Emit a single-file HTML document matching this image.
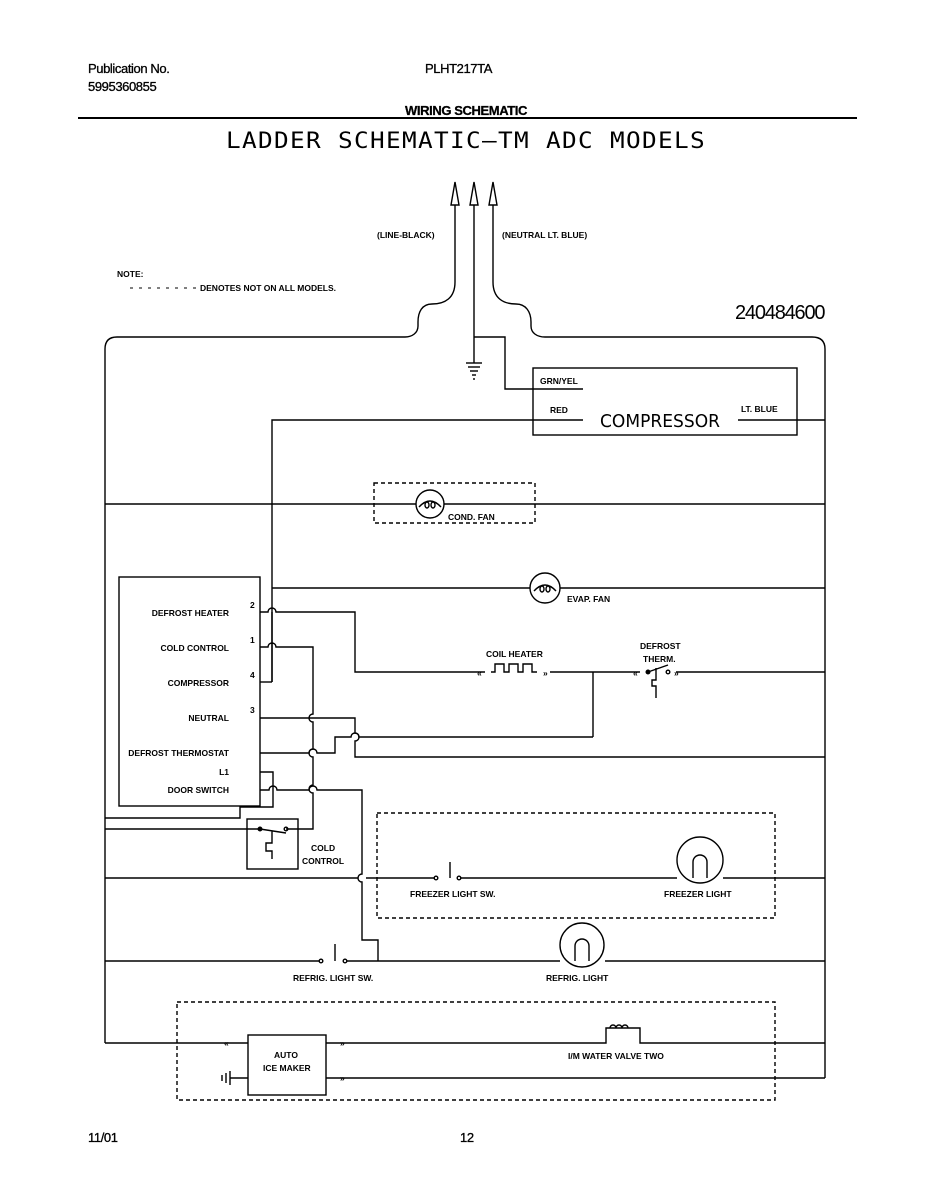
<!DOCTYPE html>
<html><head><meta charset="utf-8"><style>
html,body{margin:0;padding:0;background:#fff}
svg{display:block}
.h{font-family:"Liberation Sans",Arial,sans-serif;font-size:13px;fill:#000;letter-spacing:-0.4px;stroke:#000;stroke-width:0.3}
.s{font-family:"Liberation Sans",Arial,sans-serif;font-size:8.5px;fill:#000;font-weight:bold}
</style></head><body>
<svg width="937" height="1200" viewBox="0 0 937 1200" xmlns="http://www.w3.org/2000/svg">
<g stroke="#000" stroke-width="1.4" fill="none">
<line x1="78" y1="118" x2="857" y2="118" stroke-width="2"/>
<path d="M455,200 V282 C455,298 445,304 432,304 C422,304 418,312 418,322 V326 C418,333 412,337 405,337 H117 Q105,337 105,349 V1043"/>
<path d="M493,200 V282 C493,298 503,304 516,304 C526,304 531,312 531,322 V326 C531,333 537,337 545,337 H812 Q825,337 825,349 V1078"/>
<line x1="474" y1="200" x2="474" y2="363"/>
<path d="M474,337 H505 V389 H583"/>
<path d="M451,205 L455,182 L459,205 Z" fill="#fff"/>
<path d="M470,205 L474,182 L478,205 Z" fill="#fff"/>
<path d="M489,205 L493,182 L497,205 Z" fill="#fff"/>
<line x1="466" y1="363" x2="482" y2="363"/><line x1="468" y1="367" x2="480" y2="367"/><line x1="470" y1="371" x2="478" y2="371"/><line x1="472" y1="375" x2="476" y2="375"/><line x1="473" y1="379" x2="475" y2="379"/>
<rect x="533" y="368" width="264" height="67"/>
<path d="M272,682 V420 H583"/>
<line x1="738" y1="420" x2="825" y2="420"/>
<line x1="105" y1="504" x2="416" y2="504"/><line x1="444" y1="504" x2="825" y2="504"/>
<circle cx="430" cy="504" r="14"/>
<path d="M419,507 q11,-12 22,0"/>
<ellipse cx="427" cy="505" rx="2" ry="3"/><ellipse cx="433" cy="505" rx="2" ry="3"/>
<rect x="374" y="483" width="161" height="40" stroke-dasharray="4,3"/>
<line x1="272" y1="588" x2="530" y2="588"/><line x1="560" y1="588" x2="825" y2="588"/>
<circle cx="545" cy="588" r="15"/>
<path d="M534,591 q11,-12 22,0"/>
<ellipse cx="542" cy="589" rx="2" ry="3"/><ellipse cx="548" cy="589" rx="2" ry="3"/>
<rect x="119" y="577" width="141" height="229"/>
<path d="M260,612 H268 a4,4 0 0 1 8,0 H355 V672 H485"/>
<path d="M491,672 h4 v-8 h9 v8 h5 v-8 h9 v8 h5 v-8 h9 v8 h5"/>
<path d="M550,672 H640 M676,672 H825"/>
<path d="M593,672 V737"/>
<circle cx="648" cy="672" r="1.8" fill="#000"/><circle cx="668" cy="672" r="1.8"/>
<path d="M648,672 L668,665 M656,668 V680 h-4 v6 h4 v12"/>
<path d="M260,647 H268 a4,4 0 0 1 8,0 H313 V714 a4,4 0 0 0 0,8 V749 a4,4 0 0 0 0,8 V785 a4,4 0 0 0 0,8 V829 H286"/>
<line x1="272" y1="612" x2="272" y2="682"/>
<line x1="260" y1="682" x2="272" y2="682"/>
<path d="M260,718 H355 V733 a4,4 0 0 1 0,8 V757 H825"/>
<path d="M260,753 H309 a4,4 0 0 1 8,0 H335 V737 H351 a4,4 0 0 1 8,0 H593"/>
<path d="M260,772 H273 V807 H240 V818 H105"/>
<path d="M260,790 H269 a4,4 0 0 1 8,0 H309 a4,4 0 0 1 8,0 H362 V874 a4,4 0 0 0 0,8 V940 H378 V961"/>
<rect x="247" y="819" width="51" height="50"/>
<line x1="105" y1="829" x2="260" y2="829"/>
<circle cx="260" cy="829" r="1.8" fill="#000"/><circle cx="286" cy="829" r="1.8"/>
<path d="M260,829 L286,833 M272,831 V843 h-6 v8 h6 v8"/>
<path d="M105,878 H358 M366,878 H435 M460,878 H677 M723,878 H825"/>
<circle cx="436" cy="878" r="1.8"/><circle cx="459" cy="878" r="1.8"/>
<line x1="450" y1="878" x2="450" y2="862"/>
<circle cx="700" cy="860" r="23"/>
<path d="M693,878 V862 a7,7 0 0 1 14,0 V878"/>
<rect x="377" y="813" width="398" height="105" stroke-dasharray="4,3"/>
<path d="M105,961 H319 M347,961 H560 M605,961 H825"/>
<circle cx="321" cy="961" r="1.8"/><circle cx="345" cy="961" r="1.8"/>
<line x1="335" y1="961" x2="335" y2="944"/>
<circle cx="582" cy="945" r="22"/>
<path d="M575,961 V946 a7,7 0 0 1 14,0 V961"/>
<rect x="177" y="1002" width="598" height="98" stroke-dasharray="4,3"/>
<path d="M105,1043 H248 M326,1043 H606 V1028 H640 V1043 H825"/>
<path d="M610,1028 a3,3 0 0 1 6,0 a3,3 0 0 1 6,0 a3,3 0 0 1 6,0"/>
<rect x="248" y="1035" width="78" height="60"/>
<path d="M326,1078 H825"/>
<path d="M230,1078 H248 M230,1071 V1085 M226,1073 V1083 M222,1075 V1081"/>
<line x1="130" y1="288" x2="197" y2="288" stroke-dasharray="3,6" stroke-width="1"/>
</g>
<g font-family="Liberation Sans, Arial, sans-serif" fill="#000">
<text x="88" y="73" class="h">Publication No.</text>
<text x="88" y="91" class="h">5995360855</text>
<text x="425" y="73" class="h">PLHT217TA</text>
<text x="466" y="115" class="h" font-weight="bold" text-anchor="middle" font-size="12">WIRING SCHEMATIC</text>
<text x="466" y="148" font-family="DejaVu Sans Mono, Liberation Mono, monospace" font-size="22" text-anchor="middle" letter-spacing="1.2" textLength="480" lengthAdjust="spacingAndGlyphs">LADDER SCHEMATIC—TM ADC MODELS</text>
<text x="735" y="319" font-size="20" letter-spacing="-1.2">240484600</text>
<text x="377" y="238" class="s">(LINE-BLACK)</text>
<text x="502" y="238" class="s">(NEUTRAL LT. BLUE)</text>
<text x="117" y="277" class="s">NOTE:</text>
<text x="200" y="291" class="s">DENOTES NOT ON ALL MODELS.</text>
<text x="540" y="384" class="s">GRN/YEL</text>
<text x="550" y="413" class="s">RED</text>
<text x="600" y="427" font-size="18" font-family="DejaVu Sans, sans-serif" textLength="120" lengthAdjust="spacingAndGlyphs">COMPRESSOR</text>
<text x="741" y="412" class="s">LT. BLUE</text>
<text x="448" y="520" class="s">COND. FAN</text>
<text x="567" y="602" class="s">EVAP. FAN</text>
<g text-anchor="end">
<text x="229" y="616" class="s">DEFROST HEATER</text>
<text x="229" y="651" class="s">COLD CONTROL</text>
<text x="229" y="686" class="s">COMPRESSOR</text>
<text x="229" y="721" class="s">NEUTRAL</text>
<text x="229" y="756" class="s">DEFROST THERMOSTAT</text>
<text x="229" y="775" class="s">L1</text>
<text x="229" y="793" class="s">DOOR SWITCH</text>
</g>
<text x="250" y="608" class="s">2</text>
<text x="250" y="643" class="s">1</text>
<text x="250" y="678" class="s">4</text>
<text x="250" y="713" class="s">3</text>
<text x="486" y="657" class="s">COIL HEATER</text>
<text x="640" y="649" class="s">DEFROST</text>
<text x="643" y="662" class="s">THERM.</text>
<text x="477" y="676" class="s">«</text><text x="543" y="676" class="s">»</text>
<text x="633" y="676" class="s">«</text><text x="674" y="676" class="s">»</text>
<text x="311" y="851" class="s">COLD</text>
<text x="302" y="864" class="s">CONTROL</text>
<text x="410" y="897" class="s">FREEZER LIGHT SW.</text>
<text x="664" y="897" class="s">FREEZER LIGHT</text>
<text x="293" y="981" class="s">REFRIG. LIGHT SW.</text>
<text x="546" y="981" class="s">REFRIG. LIGHT</text>
<text x="274" y="1058" class="s">AUTO</text>
<text x="263" y="1071" class="s">ICE MAKER</text>
<text x="568" y="1059" class="s">I/M WATER VALVE TWO</text>
<text x="224" y="1046" class="s">«</text><text x="340" y="1046" class="s">»</text><text x="340" y="1081" class="s">»</text>
<text x="88" y="1142" class="h">11/01</text>
<text x="460" y="1142" class="h">12</text>
</g>
</svg>
</body></html>
